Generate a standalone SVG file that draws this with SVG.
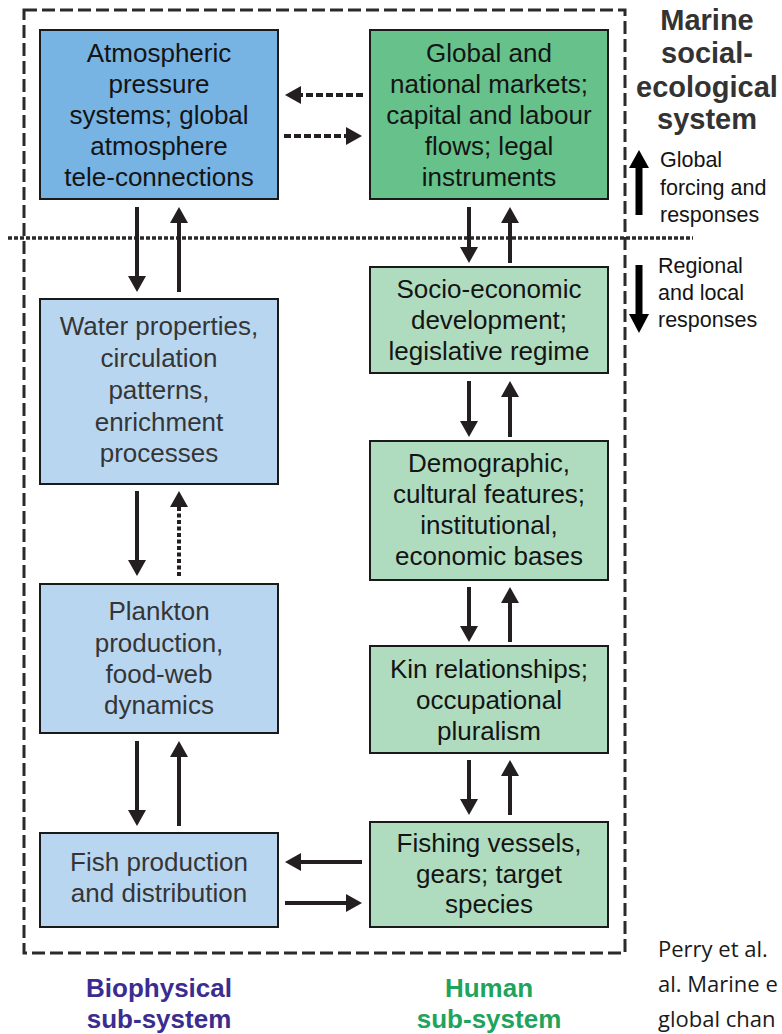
<svg xmlns="http://www.w3.org/2000/svg" width="782" height="1034" viewBox="0 0 782 1034">
<defs>
<marker id="ah" markerUnits="userSpaceOnUse" markerWidth="16" markerHeight="18" viewBox="0 0 16 18" refX="6" refY="9" orient="auto">
<path d="M0,0 L16,9 L0,18 z" fill="#231f20"/>
</marker>
</defs>
<style>
.box{stroke:#1a1a1a;stroke-width:2}
.dark{fill:#77b3e3}
.dgreen{fill:#66c18b}
.lblue{fill:#b9d6f1}
.lgreen{fill:#afdcbf}
.t{font-family:"Liberation Sans",Arial,sans-serif;font-size:26px;text-anchor:middle;fill:#141414}
.tg{fill:#353535}
.arr{stroke:#231f20;stroke-width:4;fill:none;marker-end:url(#ah)}
.dash{stroke-dasharray:7 3}
.dot{stroke-dasharray:4 2.5}
.side{font-family:"Liberation Sans",Arial,sans-serif;font-size:21.5px;fill:#141414}
.title{font-family:"Liberation Sans",Arial,sans-serif;font-size:29px;font-weight:bold;text-anchor:middle;fill:#333}
.sub{font-family:"Liberation Sans",Arial,sans-serif;font-size:26px;font-weight:bold;text-anchor:middle}
</style>
<rect width="782" height="1034" fill="#ffffff"/>
<g id="frame">
<rect x="24" y="10" width="601" height="943" fill="none" stroke="#2a2a2a" stroke-width="3" stroke-dasharray="13 5"/>
<line x1="8" y1="238" x2="693" y2="238" stroke="#2a2a2a" stroke-width="3.5" stroke-dasharray="4 2"/>
</g>
<g id="atmos">
<rect class="box dark" x="40" y="30" width="238" height="169"/>
<text class="t"><tspan x="159" y="62">Atmospheric</tspan><tspan x="159" y="93">pressure</tspan><tspan x="159" y="124">systems; global</tspan><tspan x="159" y="155">atmosphere</tspan><tspan x="159" y="186">tele-connections</tspan></text>
</g>
<g id="global">
<rect class="box dgreen" x="370" y="30" width="238" height="169"/>
<text class="t"><tspan x="489" y="62">Global and</tspan><tspan x="489" y="93">national markets;</tspan><tspan x="489" y="124">capital and labour</tspan><tspan x="489" y="155">flows; legal</tspan><tspan x="489" y="186">instruments</tspan></text>
</g>
<g id="water">
<rect class="box lblue" x="40" y="299" width="238" height="185"/>
<text class="t tg"><tspan x="159" y="335">Water properties,</tspan><tspan x="159" y="367">circulation</tspan><tspan x="159" y="399">patterns,</tspan><tspan x="159" y="431">enrichment</tspan><tspan x="159" y="462">processes</tspan></text>
</g>
<g id="plankton">
<rect class="box lblue" x="40" y="584" width="238" height="149"/>
<text class="t tg"><tspan x="159" y="620">Plankton</tspan><tspan x="159" y="652">production,</tspan><tspan x="159" y="683">food-web</tspan><tspan x="159" y="714">dynamics</tspan></text>
</g>
<g id="fish">
<rect class="box lblue" x="40" y="833" width="238" height="94"/>
<text class="t tg"><tspan x="159" y="871">Fish production</tspan><tspan x="159" y="902">and distribution</tspan></text>
</g>
<g id="socio">
<rect class="box lgreen" x="370" y="267" width="238" height="106"/>
<text class="t"><tspan x="489" y="298">Socio-economic</tspan><tspan x="489" y="329">development;</tspan><tspan x="489" y="360">legislative regime</tspan></text>
</g>
<g id="demographic">
<rect class="box lgreen" x="370" y="441" width="238" height="139"/>
<text class="t"><tspan x="489" y="472">Demographic,</tspan><tspan x="489" y="503">cultural features;</tspan><tspan x="489" y="534">institutional,</tspan><tspan x="489" y="565">economic bases</tspan></text>
</g>
<g id="kin">
<rect class="box lgreen" x="370" y="646" width="238" height="107"/>
<text class="t"><tspan x="489" y="678">Kin relationships;</tspan><tspan x="489" y="709">occupational</tspan><tspan x="489" y="740">pluralism</tspan></text>
</g>
<g id="fishing">
<rect class="box lgreen" x="370" y="822" width="238" height="105"/>
<text class="t"><tspan x="489" y="852">Fishing vessels,</tspan><tspan x="489" y="883">gears; target</tspan><tspan x="489" y="913">species</tspan></text>
</g>
<g id="connectors">
<line class="arr" x1="137" y1="207" x2="137" y2="282"/>
<line class="arr" x1="179" y1="292" x2="179" y2="217"/>
<line class="arr" x1="137" y1="491" x2="137" y2="566"/>
<line class="arr dot" x1="179" y1="576" x2="179" y2="501"/>
<line class="arr" x1="137" y1="741" x2="137" y2="816"/>
<line class="arr" x1="179" y1="826" x2="179" y2="751"/>
<line class="arr" x1="469" y1="207" x2="469" y2="253"/>
<line class="arr" x1="510" y1="263" x2="510" y2="217"/>
<line class="arr" x1="469" y1="381" x2="469" y2="427"/>
<line class="arr" x1="510" y1="437" x2="510" y2="391"/>
<line class="arr" x1="469" y1="587" x2="469" y2="632"/>
<line class="arr" x1="510" y1="642" x2="510" y2="597"/>
<line class="arr" x1="469" y1="760" x2="469" y2="805"/>
<line class="arr" x1="510" y1="815" x2="510" y2="770"/>
<line class="arr dash" x1="363" y1="95" x2="295" y2="95"/>
<line class="arr dash" x1="284" y1="136" x2="352" y2="136"/>
<line class="arr" x1="362" y1="862" x2="295" y2="862"/>
<line class="arr" x1="285" y1="903" x2="352" y2="903"/>
</g>
<g id="legend">
<text class="title"><tspan x="707" y="30">Marine</tspan><tspan x="707" y="63">social-</tspan><tspan x="707" y="97">ecological</tspan><tspan x="707" y="129">system</tspan></text>
<rect x="635.5" y="165" width="7" height="50" fill="#000"/>
<path d="M629,168 L649,168 L639,150 z" fill="#000"/>
<text class="side"><tspan x="660" y="167">Global</tspan><tspan x="660" y="195">forcing and</tspan><tspan x="660" y="222">responses</tspan></text>
<rect x="635.5" y="265" width="7" height="51" fill="#000"/>
<path d="M629,314 L649,314 L639,333 z" fill="#000"/>
<text class="side"><tspan x="658" y="273">Regional</tspan><tspan x="658" y="300">and local</tspan><tspan x="658" y="327">responses</tspan></text>
<text class="sub" fill="#3b2d8f"><tspan x="159" y="997">Biophysical</tspan><tspan x="159" y="1028">sub-system</tspan></text>
<text class="sub" fill="#1ea45c"><tspan x="489" y="997">Human</tspan><tspan x="489" y="1028">sub-system</tspan></text>
<text font-family="'Open Sans','Liberation Sans',sans-serif" font-size="22" fill="#1a1a1a"><tspan x="658" y="957">Perry et al.</tspan><tspan x="658" y="992">al. Marine e</tspan><tspan x="658" y="1027">global chan</tspan></text>
</g>
</svg>
